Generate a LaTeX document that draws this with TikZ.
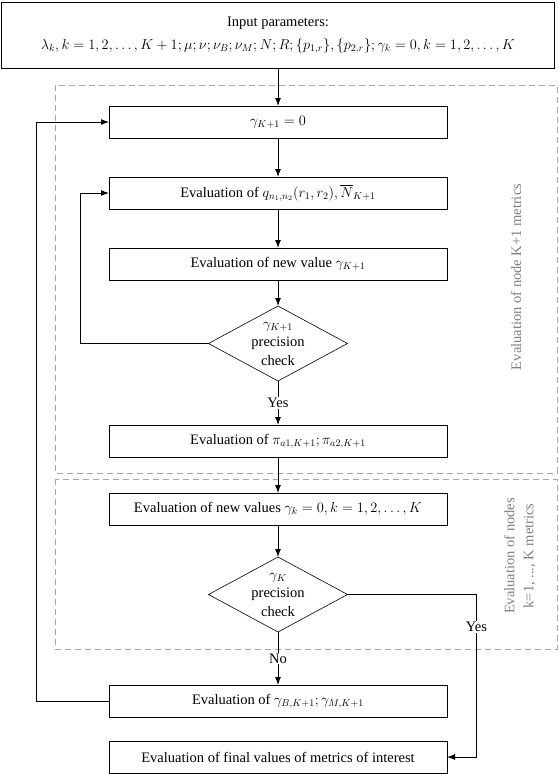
\documentclass[tikz,border=0pt]{standalone}
\usepackage{amsmath}
\usepackage{fontspec}
\setmainfont{Liberation Serif}
\usetikzlibrary{shapes,arrows,positioning,shapes.geometric,arrows.meta}

\begin{document}
\begin{tikzpicture}[
				x=1pt, y=-1pt,
				font=\fontsize{14.5}{17}\selectfont,
				inputbox/.style={rectangle, draw, line width=0.7pt, outer sep=0pt, minimum width=553pt, minimum height=66pt, align=center},
				process/.style={rectangle, draw, line width=0.7pt, outer sep=0pt, minimum width=338pt, minimum height=32pt, inner sep=1pt, align=center},
				decision/.style={diamond, draw, line width=0.6pt, outer sep=0pt, aspect=1.85, minimum width=139pt, minimum height=75pt, inner sep=0pt},
				checktext/.style={align=center, font=\fontsize{14.5}{18.5}\selectfont},
				flow/.style={-{Latex[length=8pt,width=6pt]}, line width=1pt},
				groupbox/.style={draw=gray!70, dashed, dash pattern=on 6pt off 4pt, line width=0.7pt},
				grouplabel/.style={text=gray, rotate=90, align=center, font=\fontsize{14.5}{19}\selectfont}
				]
				\useasboundingbox (0,0) rectangle (558,774);
				
				% dashed groups
				\draw[groupbox] (55,85) rectangle (557,473);
				\draw[groupbox] (55,479) rectangle (557,649);
				\node[grouplabel] (lblone) at (516,277) {Evaluation of node K+1 metrics};
				\node[grouplabel] (lbltwo) at (520,556) {Evaluation of nodes\\k=1, ..., K metrics};
				
				\node[inputbox] (input) at (278,35) {Input parameters:\\[6pt]
					$\lambda_k, k=1,2,\ldots,K+1; \mu; \nu; \nu_B; \nu_M; N; R; \{p_{1,r}\}, \{p_{2,r}\}; \gamma_k=0, k=1,2,\ldots,K$};
				\node[process, below=38pt of input] (initk) {$\gamma_{K+1}=0$};
				\node[process, below=39pt of initk] (evalq) {Evaluation of $q_{n_1,n_2}(r_1,r_2), \overline{N}_{K+1}$};
				\node[process, below=39pt of evalq] (newk) {Evaluation of new value $\gamma_{K+1}$};
				\node[decision, below=26pt of newk, label={[checktext]center:{$\gamma_{K+1}$\\precision\\check}}] (checkk) {};
				\node[process, below=44pt of checkk] (evalpi) {Evaluation of $\pi_{a1,K+1}; \pi_{a2,K+1}$};
				\node[process, below=36pt of evalpi] (newall) {Evaluation of new values $\gamma_k=0, k=1,2,\ldots,K$};
				\node[decision, below=32pt of newall, label={[checktext]center:{$\gamma_K$\\precision\\check}}] (checkall) {};
				\node[process, below=53pt of checkall] (evalbm) {Evaluation of $\gamma_{B,K+1}; \gamma_{M,K+1}$};
				\node[process, below=24pt of evalbm] (final) {Evaluation of final values of metrics of interest};
				
				% connectors
				\draw[flow] (input) -- (initk);
				\draw[flow] (initk) -- (evalq);
				\draw[flow] (evalq) -- (newk);
				\draw[flow] (newk) -- (checkk);
				\draw[flow] (checkk) -- node[fill=white, inner sep=1pt] {Yes} (evalpi);
				\draw[flow] (checkk.west) -- ++(-128,0) |- (evalq.west);
				\draw[flow] (evalpi) -- (newall);
				\draw[flow] (newall) -- (checkall);
				\draw[flow] (checkall) -- node[fill=white, inner sep=1pt] {No} (evalbm);
				\draw[flow] (checkall.east) -- ++(129,0) |- node[pos=0.1, fill=white, inner sep=1pt] {Yes} (final.east);
				\draw[flow] (evalbm.west) -- ++(-73,0) |- (initk.west);
			\end{tikzpicture}
\end{document}
